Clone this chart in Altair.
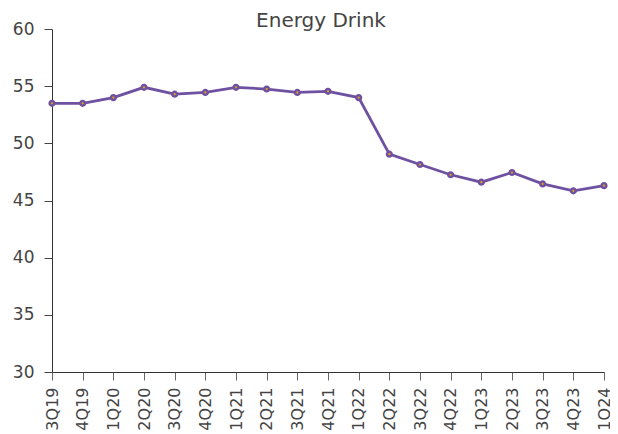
import altair as alt
import pandas as pd

quarters = ["3Q19", "4Q19", "1Q20", "2Q20", "3Q20", "4Q20", "1Q21", "2Q21", "3Q21", "4Q21",
            "1Q22", "2Q22", "3Q22", "4Q22", "1Q23", "2Q23", "3Q23", "4Q23", "1Q24"]
values = [53.5, 53.5, 54.0, 54.9, 54.3, 54.45, 54.9, 54.75, 54.45, 54.55,
          54.0, 49.05, 48.15, 47.25, 46.6, 47.45, 46.45, 45.85, 46.3]
y_ticks = [30, 35, 40, 45, 50, 55, 60]

df = pd.DataFrame({"quarter": quarters, "value": values})

FONT = "DejaVu Sans"
PURPLE = "#6f51a1"
ORANGE = "#e8a317"

x = alt.X("quarter:N", sort=quarters, title=None,
          scale=alt.Scale(type="point", padding=0),
          axis=alt.Axis(labelAngle=270, labelFont=FONT, labelFontSize=16, labelColor="#444444",
                        labelPadding=7, tickSize=8, tickColor="#666666", domainColor="#333333",
                        labelOverlap=False, grid=False))
y = alt.Y("value:Q", title=None,
          scale=alt.Scale(domain=[30, 60], nice=False, zero=False),
          axis=alt.Axis(values=y_ticks, labelFont=FONT, labelFontSize=17, labelColor="#444444",
                        labelPadding=10, tickSize=8, tickColor="#444444", domainColor="#333333",
                        grid=False))

line = alt.Chart(df).mark_line(color=PURPLE, strokeWidth=2.8).encode(x=x, y=y)
pts = alt.Chart(df).mark_point(filled=True, fill=ORANGE, stroke=PURPLE, strokeWidth=2.5,
                               size=22, opacity=1).encode(x=x, y=y)

chart = (line + pts).properties(
    width=552, height=343,
    title=alt.TitleParams("Energy Drink", font=FONT, fontSize=20, fontWeight="normal",
                          color="#444444", dx=-7, offset=-11, anchor="middle"),
    autosize=alt.AutoSizeParams(type="none"),
    padding={"left": 44, "top": 21, "right": 6, "bottom": 62},
).configure_view(stroke=None)

chart.save("out.html", embed_options={"renderer": "svg", "actions": False})
